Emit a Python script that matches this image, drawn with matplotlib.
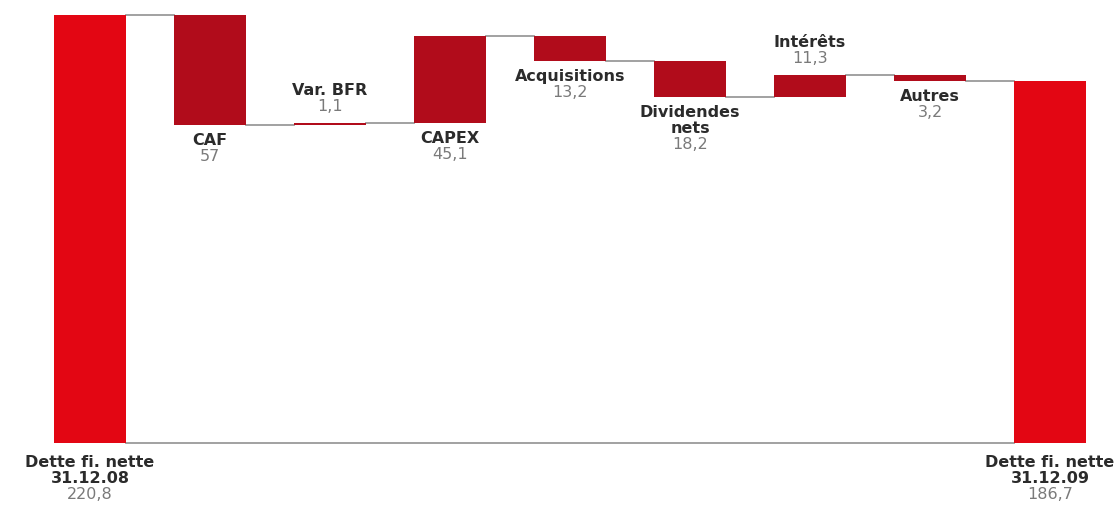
import matplotlib
matplotlib.use("Agg")
import matplotlib.pyplot as plt
from matplotlib.transforms import offset_copy

# ---- data ----
start_value = 220.8
end_value = 186.7
step_names = ["CAF", "Var. BFR", "CAPEX", "Acquisitions", "Dividendes\nnets", "Intérêts", "Autres"]
step_deltas = [-57.0, 1.1, 45.1, -13.2, -18.2, 11.3, -3.2]
step_labels = ["57", "1,1", "45,1", "13,2", "18,2", "11,3", "3,2"]
start_name = "Dette fi. nette\n31.12.08"
start_label = "220,8"
end_name = "Dette fi. nette\n31.12.09"
end_label = "186,7"
# label placement: "below" bottom of bar or "above" top
step_label_pos = ["below", "above", "below", "below", "below", "above", "below"]

RED = "#e30613"
DARK_RED = "#b10c1b"
GREY_LINE = "#9a9a9a"
NAME_C = "#2b2b2b"
VAL_C = "#7a7a7a"

fig = plt.figure(figsize=(11.18, 5.11), dpi=100)
ax = fig.add_axes([0, 0, 1, 1])
ax.set_xlim(-0.75, 8.567)
ax.set_ylim(-35.1, 228.5)
ax.axis("off")

W = 0.6
n = len(step_deltas)

# bars
ax.bar(0, start_value, width=W, color=RED, zorder=3)
ax.bar(n + 1, end_value, width=W, color=RED, zorder=3)
level = start_value
levels = [start_value]
bottoms, tops = [], []
for i, d in enumerate(step_deltas):
    new = level + d
    lo, hi = min(level, new), max(level, new)
    ax.bar(i + 1, hi - lo, bottom=lo, width=W, color=DARK_RED, zorder=3)
    bottoms.append(lo)
    tops.append(hi)
    level = new
    levels.append(level)

# connectors
for i in range(n + 1):
    ax.plot([i + W / 2, i + 1 - W / 2], [levels[i], levels[i]], color=GREY_LINE, lw=1.3, zorder=2)
# baseline
ax.plot([W / 2, n + 1 - W / 2], [0, 0], color=GREY_LINE, lw=1.3, zorder=2)

FS = 11.5
LH = 16  # pixels per line


def label(x, y, name, val, where, gap):
    lines = name.split("\n")
    if where == "below":
        for k, ln in enumerate(lines):
            tr = offset_copy(ax.transData, fig=fig, x=0, y=-(gap + k * LH), units="dots")
            ax.text(x, y, ln, transform=tr, ha="center", va="top", fontsize=FS,
                    fontweight="bold", color=NAME_C)
        tr = offset_copy(ax.transData, fig=fig, x=0, y=-(gap + len(lines) * LH), units="dots")
        ax.text(x, y, val, transform=tr, ha="center", va="top", fontsize=FS, color=VAL_C)
    else:
        tr = offset_copy(ax.transData, fig=fig, x=0, y=gap, units="dots")
        ax.text(x, y, val, transform=tr, ha="center", va="bottom", fontsize=FS, color=VAL_C)
        for k, ln in enumerate(reversed(lines)):
            tr = offset_copy(ax.transData, fig=fig, x=0, y=gap + (k + 1) * LH, units="dots")
            ax.text(x, y, ln, transform=tr, ha="center", va="bottom", fontsize=FS,
                    fontweight="bold", color=NAME_C)


label(0, 0, start_name, start_label, "below", 12)
label(n + 1, 0, end_name, end_label, "below", 12)
for i in range(n):
    if step_label_pos[i] == "below":
        label(i + 1, bottoms[i], step_names[i], step_labels[i], "below", 8)
    else:
        label(i + 1, tops[i], step_names[i], step_labels[i], "above", 9)

fig.savefig("out.png", dpi=100)
